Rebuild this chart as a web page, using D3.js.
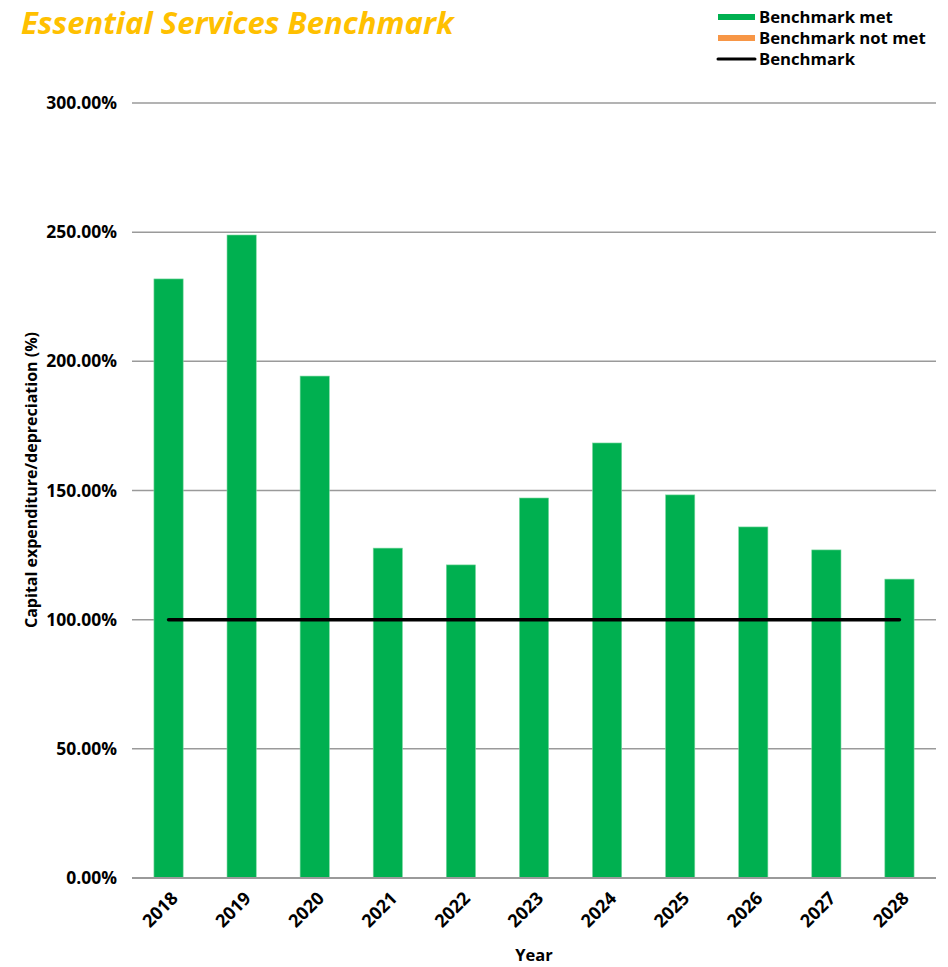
<!DOCTYPE html>
<html lang="en">
<head>
    <meta charset="UTF-8" />
    <title>Essential Services Benchmark</title>
    <script src="https://d3js.org/d3.v7.min.js"></script>
    <style>
        body {
            margin: 0;
            background: #fff;
            font-family: "Open Sans", sans-serif;
        }
        svg text {
            font-weight: 700;
            fill: #000;
        }
    </style>
</head>
<body>
    <svg id="chart" width="948" height="967"></svg>
    <script>
        // Chart data
        var years = ["2018", "2019", "2020", "2021", "2022", "2023", "2024", "2025", "2026", "2027", "2028"];
        var ratios = [231.9, 248.9, 194.3, 127.7, 121.2, 147.1, 168.4, 148.3, 135.9, 127.0, 115.7];
        var benchmark = [100, 100, 100, 100, 100, 100, 100, 100, 100, 100, 100];
        var yTicks = [0, 50, 100, 150, 200, 250, 300];
        var legendItems = ["Benchmark met", "Benchmark not met", "Benchmark"];

        var w = 948;
        var h = 967;
        var margin = { left: 132, right: 12, top: 103, bottom: 89 };

        var green = "#00b050";
        var orange = "#f79646";

        var svg = d3.select("#chart");

        var xScale = d3.scaleBand()
            .domain(years)
            .range([margin.left, w - margin.right])
            .paddingInner(0.6)
            .paddingOuter(0.3);

        var yScale = d3.scaleLinear()
            .domain([0, 300])
            .range([h - margin.bottom, margin.top]);

        // Gridlines
        svg.append("g")
            .selectAll("line")
            .data(yTicks.slice(1))
            .enter()
            .append("line")
            .attr("x1", margin.left)
            .attr("x2", w - margin.right)
            .attr("y1", d => yScale(d))
            .attr("y2", d => yScale(d))
            .attr("stroke", "#9a9a9a")
            .attr("stroke-width", 1.5);

        // Y labels
        svg.append("g")
            .selectAll("text")
            .data(yTicks)
            .enter()
            .append("text")
            .attr("x", 117)
            .attr("y", d => yScale(d))
            .attr("dy", "0.35em")
            .attr("text-anchor", "end")
            .style("font-size", "17.5px")
            .text(d => d.toFixed(2) + "%");

        // Bars
        svg.append("g")
            .selectAll("rect")
            .data(ratios)
            .enter()
            .append("rect")
            .attr("x", (d, i) => xScale(years[i]))
            .attr("y", d => yScale(d))
            .attr("width", xScale.bandwidth())
            .attr("height", d => yScale(0) - yScale(d))
            .attr("fill", d => d >= 100 ? green : orange)
            .attr("stroke", "#7ed9a2")
            .attr("stroke-width", 0.6);

        // X axis line
        svg.append("line")
            .attr("x1", margin.left)
            .attr("x2", w - margin.right)
            .attr("y1", yScale(0))
            .attr("y2", yScale(0))
            .attr("stroke", "#9a9a9a")
            .attr("stroke-width", 2);

        // Benchmark line
        var line = d3.line()
            .x((d, i) => xScale(years[i]) + xScale.bandwidth() / 2)
            .y(d => yScale(d));

        svg.append("path")
            .datum(benchmark)
            .attr("d", line)
            .attr("fill", "none")
            .attr("stroke", "#000")
            .attr("stroke-width", 3.5)
            .attr("stroke-linecap", "round");

        // X labels
        svg.append("g")
            .selectAll("text")
            .data(years)
            .enter()
            .append("text")
            .attr("transform", d => "translate(" + (xScale(d) + xScale.bandwidth() / 2 + 6) + "," + (yScale(0) + 17) + ") rotate(-45)")
            .attr("text-anchor", "end")
            .attr("dy", "0.35em")
            .style("font-size", "18px")
            .text(d => d);

        // Axis titles
        svg.append("text")
            .attr("x", xScale("2023") + xScale.bandwidth() / 2)
            .attr("y", 961)
            .attr("text-anchor", "middle")
            .style("font-size", "16.5px")
            .text("Year");

        svg.append("text")
            .attr("transform", "translate(37,480) rotate(-90)")
            .attr("text-anchor", "middle")
            .style("font-size", "16px")
            .text("Capital expenditure/depreciation (%)");

        // Title
        svg.append("text")
            .attr("x", 21)
            .attr("y", 34)
            .style("font-size", "31px")
            .style("font-style", "italic")
            .style("fill", "#ffc000")
            .text("Essential Services Benchmark");

        // Legend
        var legend = svg.append("g")
            .selectAll("g")
            .data(legendItems)
            .enter()
            .append("g")
            .attr("transform", (d, i) => "translate(718," + (17 + i * 21) + ")");

        legend.append("line")
            .attr("x1", 0)
            .attr("x2", 37)
            .attr("stroke", (d, i) => i == 0 ? green : (i == 1 ? orange : "#000"))
            .attr("stroke-width", (d, i) => i == 2 ? 3 : 6)
            .attr("stroke-linecap", (d, i) => i == 2 ? "round" : "butt");

        legend.append("text")
            .attr("x", 41)
            .attr("dy", "0.35em")
            .style("font-size", "16.7px")
            .text(d => d);
    </script>
</body>
</html>
